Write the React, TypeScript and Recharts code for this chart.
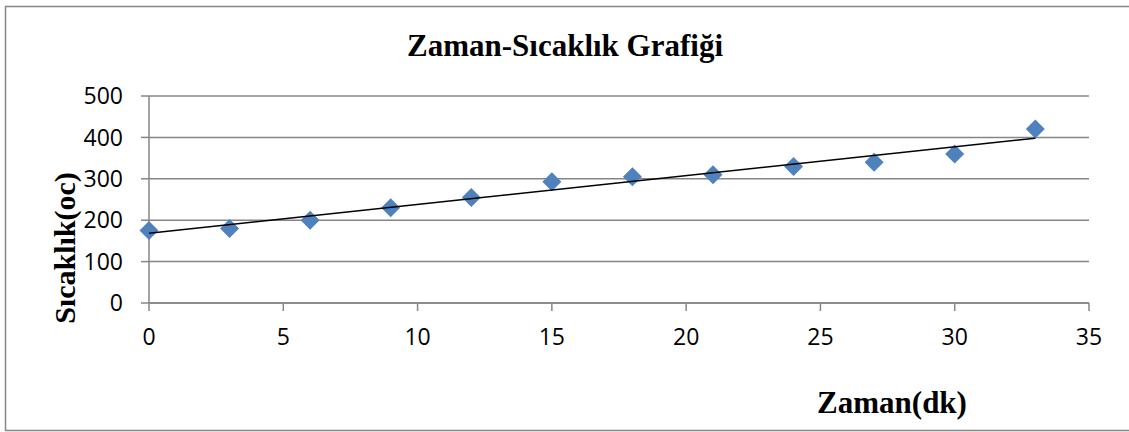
import React from "react";
import {
  ScatterChart,
  Scatter,
  XAxis,
  YAxis,
  CartesianGrid,
} from "recharts";

// Zaman (dk) ve okunan sıcaklık değerleri
const zamanDk = [0, 3, 6, 9, 12, 15, 18, 21, 24, 27, 30, 33];
const sicaklik = [175, 180, 200, 230, 255, 293, 305, 310, 330, 340, 360, 420];
const xTicks = [0, 5, 10, 15, 20, 25, 30, 35];
const yTicks = [0, 100, 200, 300, 400, 500];

const points = zamanDk.map((x, i) => ({ x, y: sicaklik[i] }));

// linear trendline (least squares), drawn from first to last x
function linearTrend(xs: number[], ys: number[]) {
  const n = xs.length;
  const mx = xs.reduce((a, b) => a + b, 0) / n;
  const my = ys.reduce((a, b) => a + b, 0) / n;
  let sxy = 0;
  let sxx = 0;
  xs.forEach((x, i) => {
    sxy += (x - mx) * (ys[i] - my);
    sxx += (x - mx) * (x - mx);
  });
  const slope = sxy / sxx;
  const b = my - slope * mx;
  const x0 = xs[0];
  const x1 = xs[n - 1];
  return [
    { x: x0, y: b + slope * x0 },
    { x: x1, y: b + slope * x1 },
  ];
}

const trend = linearTrend(zamanDk, sicaklik);

const GRID = "#868686";
const SERIF = "'Liberation Serif', 'Times New Roman', serif";
const SANS = "'Open Sans', sans-serif";

const Diamond = (props: any) => {
  const { cx, cy } = props;
  const r = 9.5;
  return (
    <polygon
      points={`${cx},${cy - r} ${cx + r},${cy} ${cx},${cy + r} ${cx - r},${cy}`}
      fill="#4F81BD"
    />
  );
};

const NoDot = () => <g />;

export default function App() {
  return (
    <div style={{ position: "absolute", left: 0, top: 0, width: 1129, height: 432, background: "#fff" }}>
      <ScatterChart
        width={1129}
        height={432}
        margin={{ top: 96, right: 40, left: 89, bottom: 99 }}
      >
        <CartesianGrid vertical={false} stroke={GRID} strokeWidth={1.5} />
        <XAxis
          type="number"
          dataKey="x"
          domain={[0, 35]}
          ticks={xTicks}
          height={30}
          interval={0}
          stroke={GRID}
          strokeWidth={1.5}
          tickSize={8}
          tickMargin={18}
          tick={{ fontSize: 23, fill: "#000", fontFamily: SANS }}
        />
        <YAxis
          type="number"
          dataKey="y"
          domain={[0, 500]}
          ticks={yTicks}
          width={60}
          interval={0}
          stroke={GRID}
          strokeWidth={1.5}
          tickSize={8}
          tickMargin={18}
          tick={{ fontSize: 23, fill: "#000", fontFamily: SANS }}
        />
        <Scatter data={points} shape={Diamond} isAnimationActive={false} />
        <Scatter
          data={trend}
          shape={NoDot}
          line={{ stroke: "#000", strokeWidth: 1.5 }}
          isAnimationActive={false}
        />
      </ScatterChart>
      <svg
        width={1129}
        height={432}
        style={{ position: "absolute", left: 0, top: 0, pointerEvents: "none" }}
      >
        <rect x={5.5} y={6.5} width={1130} height={424} fill="none" stroke={GRID} strokeWidth={1.5} />
        <text x={565} y={56} textAnchor="middle" fontFamily={SERIF} fontWeight="bold" fontSize={31} fill="#000">
          Zaman-Sıcaklık Grafiği
        </text>
        <text
          x={75}
          y={248}
          transform="rotate(-90, 75, 248)"
          textAnchor="middle"
          fontFamily={SERIF}
          fontWeight="bold"
          fontSize={30}
          fill="#000"
        >
          Sıcaklık(oc)
        </text>
        <text x={892} y={413} textAnchor="middle" fontFamily={SERIF} fontWeight="bold" fontSize={31} fill="#000">
          Zaman(dk)
        </text>
      </svg>
    </div>
  );
}
